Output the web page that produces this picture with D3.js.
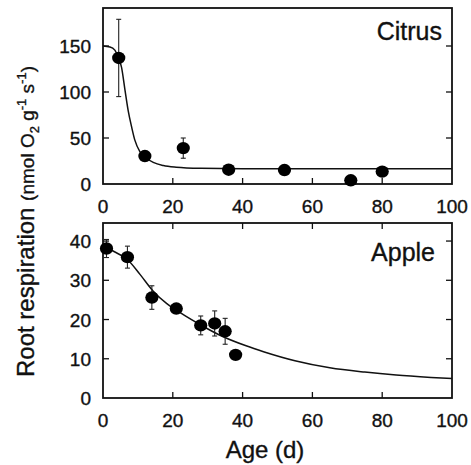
<!DOCTYPE html>
<html><head><meta charset="utf-8">
<script src="https://cdn.jsdelivr.net/npm/d3@7"></script>
<style>body{margin:0;background:#fff}svg{display:block}text{font-family:"Liberation Sans",Arial,sans-serif;fill:#111;stroke:#111;stroke-width:0.35px}</style>
</head><body>
<svg id="c" width="471" height="465"></svg>
<script>
// ---- data ----
const xTicks = [0, 20, 40, 60, 80, 100];
const citrusYTicks = [0, 50, 100, 150];
const appleYTicks = [0, 10, 20, 30, 40];

const citrusAge  = [4.5, 12, 23, 36, 52, 71, 80];
const citrusResp = [137, 30.4, 39, 15.5, 15.2, 4, 13.5];
const citrusErr  = [42, 0, 11, 0, 0, 0, 0];
const citrusFitAge = [0, 2, 3.4, 4.4, 5.3, 6.3, 7.2, 8.2, 9.1, 10.6, 12.5, 14.4, 17.3, 21, 28, 40, 60, 80, 100];
const citrusFitVal = [150, 149, 145.5, 137, 127, 102, 80, 62, 48, 35, 28, 23.5, 20, 18.2, 17, 16.5, 16.5, 16.5, 16.5];

const appleAge  = [1, 7, 14, 21, 28, 32, 35, 38];
const appleResp = [38.1, 35.9, 25.6, 22.8, 18.5, 19, 17, 11];
const appleErr  = [2.3, 2.8, 3, 0, 2.4, 3.2, 3.3, 0];
const appleFitAge = [0, 3, 7, 10.6, 14.4, 18.2, 22, 28, 33.5, 41, 46, 55, 65, 75, 84, 94, 100];
const appleFitVal = [39, 37.4, 35.3, 31.5, 27.2, 24.1, 21.8, 18.6, 16.0, 13.3, 11.8, 9.5, 7.7, 6.6, 5.85, 5.25, 4.95];

// ---- drawing ----
const svg = d3.select("#c");
const x = d3.scaleLinear().domain([0, 100]).range([103, 452]);

function panel(opts) {
  const y = d3.scaleLinear().domain(opts.yDomain).range([opts.bottom, opts.top]);
  const g = svg.append("g");
  const tl = 6;
  // ticks (inward)
  const tk = g.append("g").attr("stroke", "#111").attr("stroke-width", 1.3);
  opts.yTicks.forEach(v => {
    if (v === 0) return;
    tk.append("line").attr("x1", x(0)).attr("x2", x(0) + tl).attr("y1", y(v)).attr("y2", y(v));
    tk.append("line").attr("x1", x(100)).attr("x2", x(100) - tl).attr("y1", y(v)).attr("y2", y(v));
  });
  xTicks.forEach(v => {
    if (v === 0 || v === 100) return;
    tk.append("line").attr("x1", x(v)).attr("x2", x(v)).attr("y1", opts.bottom).attr("y2", opts.bottom - tl);
    if (opts.topTicks) tk.append("line").attr("x1", x(v)).attr("x2", x(v)).attr("y1", opts.top).attr("y2", opts.top + tl);
  });
  // frame
  g.append("rect").attr("x", x(0)).attr("y", opts.top).attr("width", x(100) - x(0)).attr("height", opts.bottom - opts.top)
    .attr("fill", "none").attr("stroke", "#111").attr("stroke-width", 1.8);
  // tick labels
  g.selectAll(".yl").data(opts.yTicks).join("text").attr("x", 91).attr("y", d => y(d)).attr("dy", "0.37em")
    .attr("text-anchor", "end").attr("font-size", 19).text(d => d);
  g.selectAll(".xl").data(xTicks).join("text").attr("x", d => x(d)).attr("y", opts.bottom + 29)
    .attr("text-anchor", "middle").attr("font-size", 19).text(d => d);
  // fit curve
  const line = d3.line().x(d => x(d[0])).y(d => y(d[1])).curve(d3.curveMonotoneX);
  g.append("path").datum(d3.zip(opts.fitAge, opts.fitVal)).attr("d", line)
    .attr("fill", "none").attr("stroke", "#111").attr("stroke-width", 1.5);
  // error bars
  const pts = opts.age.map((a, i) => ({a, v: opts.resp[i], e: opts.err[i]}));
  const eb = g.append("g").attr("stroke", "#222").attr("stroke-width", 1.1);
  pts.filter(p => p.e > 0).forEach(p => {
    eb.append("line").attr("x1", x(p.a)).attr("x2", x(p.a)).attr("y1", y(p.v - p.e)).attr("y2", y(p.v + p.e));
    [p.v - p.e, p.v + p.e].forEach(v => eb.append("line").attr("x1", x(p.a) - 2.5).attr("x2", x(p.a) + 2.5).attr("y1", y(v)).attr("y2", y(v)));
  });
  // points
  g.selectAll("ellipse.pt").data(pts).join("ellipse").attr("cx", p => x(p.a)).attr("cy", p => y(p.v))
    .attr("rx", 6.6).attr("ry", 6.2).attr("fill", "#000");
  // panel label
  g.append("text").attr("x", opts.labelX).attr("y", opts.labelY).attr("text-anchor", "end")
    .attr("font-size", 25).text(opts.label);
}

panel({yDomain: [0, 191.3], top: 8, bottom: 184, yTicks: citrusYTicks, topTicks: false,
  age: citrusAge, resp: citrusResp, err: citrusErr, fitAge: citrusFitAge, fitVal: citrusFitVal,
  label: "Citrus", labelX: 442, labelY: 40});
panel({yDomain: [0, 44.6], top: 223, bottom: 398, yTicks: appleYTicks, topTicks: true,
  age: appleAge, resp: appleResp, err: appleErr, fitAge: appleFitAge, fitVal: appleFitVal,
  label: "Apple", labelX: 435, labelY: 261});

// axis titles
svg.append("text").attr("x", 265).attr("y", 458).attr("text-anchor", "middle").attr("font-size", 24).text("Age (d)");
const yt = svg.append("text").attr("transform", "translate(34,377) rotate(-90)").attr("text-anchor", "start");
yt.append("tspan").attr("font-size", 24).text("Root respiration ");
yt.append("tspan").attr("font-size", 19).text("(nmol O");
yt.append("tspan").attr("font-size", 13).attr("dy", 5).text("2");
yt.append("tspan").attr("font-size", 19).attr("dy", -5).text(" g");
yt.append("tspan").attr("font-size", 13).attr("dy", -8).text("-1");
yt.append("tspan").attr("font-size", 19).attr("dy", 8).text(" s");
yt.append("tspan").attr("font-size", 13).attr("dy", -8).text("-1");
yt.append("tspan").attr("font-size", 19).attr("dy", 8).text(")");
</script>
</body></html>
